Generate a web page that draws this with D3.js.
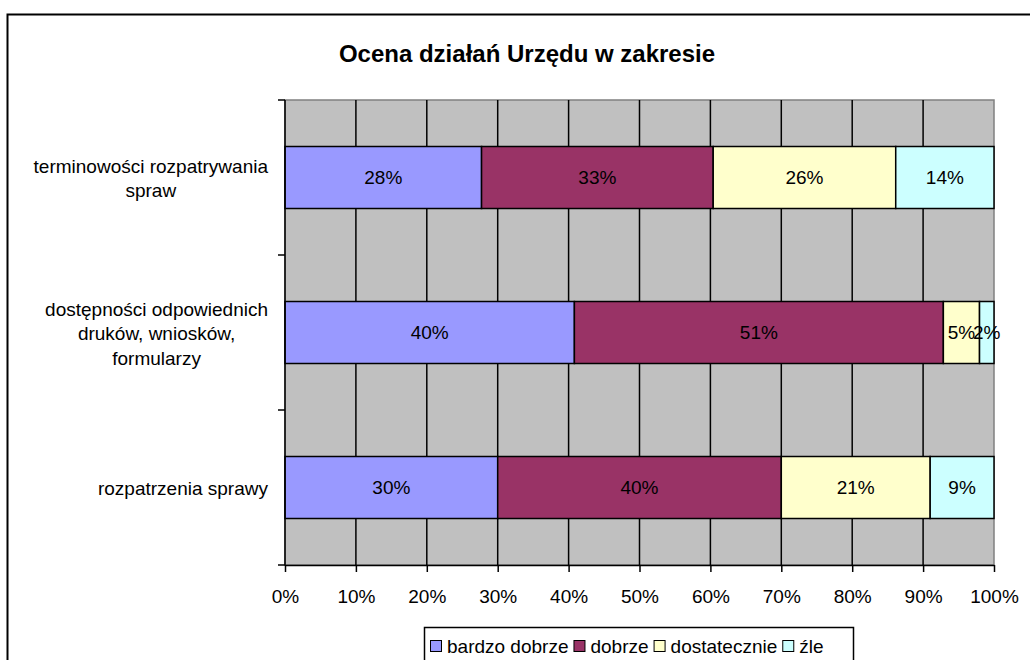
<!DOCTYPE html>
<html>
<head>
<meta charset="utf-8">
<script src="https://cdn.jsdelivr.net/npm/d3@7"></script>
<style>
  html, body { margin: 0; padding: 0; background: #fff; }
  svg { display: block; font-family: "Liberation Sans", Arial, sans-serif; }
</style>
</head>
<body>
<svg id="chart" width="1030" height="660"></svg>
<script>
// Survey categories (top to bottom) and answer shares per category
const categories = [
  ["terminowości rozpatrywania", "spraw"],
  ["dostępności odpowiednich", "druków, wniosków,", "formularzy"],
  ["rozpatrzenia sprawy"]
];
const seriesNames = ["bardzo dobrze", "dobrze", "dostatecznie", "źle"];
const seriesColors = ["#9999FF", "#993366", "#FFFFCC", "#CCFFFF"];
const bardzoDobrze = [28, 40, 30];
const dobrze = [33, 51, 40];
const dostatecznie = [26, 5, 21];
const zle = [14, 2, 9];
const xTicks = [0, 10, 20, 30, 40, 50, 60, 70, 80, 90, 100];
const titleText = "Ocena działań Urzędu w zakresie";

const seriesValues = [bardzoDobrze, dobrze, dostatecznie, zle];
const rows = categories.map((c, i) => {
  const r = { key: i };
  seriesNames.forEach((s, j) => { r[s] = seriesValues[j][i]; });
  return r;
});

const FONT = 19;
const svg = d3.select("#chart");

// Outer chart frame
svg.append("rect")
  .attr("x", 7.5).attr("y", 14.5)
  .attr("width", 1100).attr("height", 700)
  .attr("fill", "#fff").attr("stroke", "#000").attr("stroke-width", 2);

const plot = { left: 285, right: 994, top: 100, bottom: 565 };

const x = d3.scaleLinear().domain([0, 1]).range([plot.left, plot.right]);
const y = d3.scaleBand()
  .domain(rows.map(r => r.key))
  .range([plot.top, plot.bottom])
  .paddingInner(0.6).paddingOuter(0.3);
const yBands = d3.scaleBand().domain(rows.map(r => r.key)).range([plot.top, plot.bottom]);

// Plot area background
svg.append("rect")
  .attr("x", plot.left).attr("y", plot.top)
  .attr("width", plot.right - plot.left).attr("height", plot.bottom - plot.top)
  .attr("fill", "#C0C0C0").attr("stroke", "#808080").attr("stroke-width", 1.5);

// Vertical gridlines
svg.append("g").selectAll("line")
  .data(xTicks.slice(1, -1))
  .join("line")
  .attr("x1", d => x(d / 100)).attr("x2", d => x(d / 100))
  .attr("y1", plot.top).attr("y2", plot.bottom)
  .attr("stroke", "#000").attr("stroke-width", 1.5);

// Stacked bars normalised to 100%
const stack = d3.stack().keys(seriesNames).offset(d3.stackOffsetExpand);
const stacked = stack(rows);

const layers = svg.append("g").selectAll("g")
  .data(stacked)
  .join("g")
  .attr("fill", (d, i) => seriesColors[i]);

layers.selectAll("rect")
  .data(d => d.map(p => ({ p, key: d.key })))
  .join("rect")
  .attr("x", d => x(d.p[0]))
  .attr("y", d => y(d.p.data.key))
  .attr("width", d => x(d.p[1]) - x(d.p[0]))
  .attr("height", y.bandwidth())
  .attr("stroke", "#000").attr("stroke-width", 1.5);

// Data labels
layers.selectAll("text")
  .data(d => d.map(p => ({ p, key: d.key })))
  .join("text")
  .attr("x", d => (x(d.p[0]) + x(d.p[1])) / 2)
  .attr("y", d => y(d.p.data.key) + y.bandwidth() / 2)
  .attr("dy", "0.35em")
  .attr("text-anchor", "middle")
  .attr("fill", "#000").attr("font-size", FONT)
  .text(d => d.p.data[d.key] + "%");

// Bottom axis
const xAxis = d3.axisBottom(x)
  .tickValues(xTicks.map(t => t / 100))
  .tickFormat(d => Math.round(d * 100) + "%")
  .tickSizeInner(7).tickSizeOuter(0).tickPadding(18);
const gx = svg.append("g").attr("transform", `translate(0,${plot.bottom})`).call(xAxis);
gx.select(".domain").attr("stroke", "#000").attr("stroke-width", 1.5);
gx.selectAll(".tick line").attr("stroke", "#000").attr("stroke-width", 1.5);
gx.selectAll(".tick text").attr("font-size", FONT).attr("fill", "#000")
  .attr("font-family", "Liberation Sans, Arial, sans-serif");

// Left axis with category separators
svg.append("line")
  .attr("x1", plot.left).attr("x2", plot.left)
  .attr("y1", plot.top).attr("y2", plot.bottom)
  .attr("stroke", "#000").attr("stroke-width", 1.5);
const sepYs = rows.map(r => yBands(r.key)).concat([plot.bottom]);
svg.append("g").selectAll("line")
  .data(sepYs)
  .join("line")
  .attr("x1", plot.left - 7).attr("x2", plot.left)
  .attr("y1", d => d).attr("y2", d => d)
  .attr("stroke", "#000").attr("stroke-width", 1.5);

// Category labels (multi-line, centred as a block against the axis)
const labelRight = 268;
const lineH = 24.5;
rows.forEach((r, i) => {
  const lines = categories[i];
  const cy = yBands(r.key) + yBands.bandwidth() / 2 + 1;
  const g = svg.append("g");
  const texts = lines.map((ln, k) => g.append("text")
    .attr("y", cy + (k - (lines.length - 1) / 2) * lineH)
    .attr("dy", "0.35em")
    .attr("text-anchor", "middle")
    .attr("font-size", FONT).attr("fill", "#000")
    .text(ln));
  const maxW = d3.max(texts, t => t.node().getComputedTextLength());
  texts.forEach(t => t.attr("x", labelRight - maxW / 2));
});

// Title
svg.append("text")
  .attr("x", 527).attr("y", 62)
  .attr("text-anchor", "middle")
  .attr("font-size", 24).attr("font-weight", "bold").attr("fill", "#000")
  .text(titleText);

// Legend
const legend = svg.append("g");
legend.append("rect")
  .attr("x", 424.5).attr("y", 627.5).attr("width", 429).attr("height", 60)
  .attr("fill", "#fff").attr("stroke", "#000").attr("stroke-width", 1.5);
let lx = 430;
seriesNames.forEach((name, i) => {
  legend.append("rect")
    .attr("x", lx + 0.5).attr("y", 640.5).attr("width", 11).attr("height", 11)
    .attr("fill", seriesColors[i]).attr("stroke", "#000").attr("stroke-width", 1);
  const t = legend.append("text")
    .attr("x", lx + 17).attr("y", 646).attr("dy", "0.35em")
    .attr("font-size", FONT).attr("fill", "#000")
    .text(name);
  lx += 17 + t.node().getComputedTextLength() + 5;
});
</script>
</body>
</html>
